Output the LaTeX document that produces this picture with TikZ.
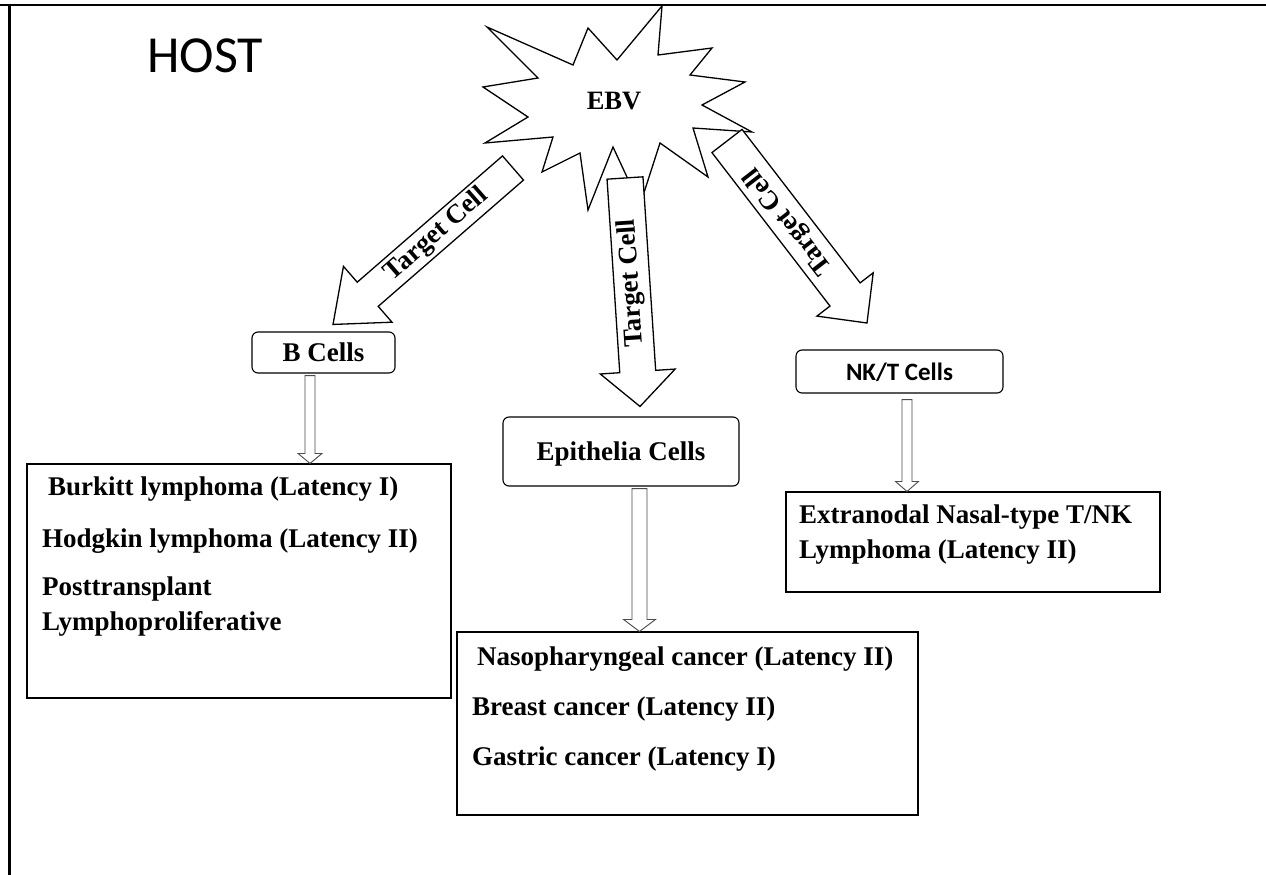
\documentclass[tikz,border=0pt]{standalone}
\usepackage{fontspec}
\setmainfont{Liberation Serif}
\newfontfamily\calibri{Carlito}
\usetikzlibrary{calc}

% #1 style, #2 start, #3 tip, #4 half shaft, #5 half head, #6 head length
\newcommand{\blockarr}[6][]{%
  \path ($(#3)!#6!(#2)$) coordinate (hb);
  \draw[#1] ($(#2)!#4!90:(#3)$) -- ($(hb)!#4!90:(#3)$) -- ($(hb)!#5!90:(#3)$) -- (#3)
    -- ($(hb)!#5!-90:(#3)$) -- ($(hb)!#4!-90:(#3)$) -- ($(#2)!#4!-90:(#3)$) -- cycle;}

\begin{document}
\begin{tikzpicture}[x=1pt,y=-1pt,
  lbl/.style={font=\fontsize{27}{30}\selectfont\bfseries, inner sep=0pt, anchor=base west},
  cellbox/.style={draw, rounded corners=6pt, line width=1.1pt, inner sep=0pt, text height=18pt, text depth=0pt, font=\fontsize{27}{30}\selectfont\bfseries},
  listbox/.style={draw, line width=1.1pt, inner sep=0pt},
  bigarrow/.style={draw, fill=white, line width=1.3pt, line join=miter},
  thinarrow/.style={draw=black!70, fill=white, line width=0.9pt, line join=miter},
  tc/.style={font=\fontsize{26.8}{30}\selectfont\bfseries, inner sep=0pt}
]
\fill[white] (0,0) rectangle (1266,875);
\useasboundingbox (0,0) rectangle (1266,875);
\draw[line width=2.8pt] (0,5) -- (1266,5);
\draw[line width=2.8pt] (9.5,3.6) -- (9.5,875);

\node[inner sep=0pt, anchor=base west, font=\calibri\fontsize{52}{60}\selectfont] (host) at (147,72) {HOST};

% star
\draw[line width=1.3pt, fill=white, line join=miter]
  (662,6) -- (658,55) -- (712,48) -- (690,75) -- (745,82) -- (702,105) -- (752,132)
  -- (693,128) -- (708,177) -- (660,143) -- (640,205) -- (613,147) -- (588,210)
  -- (580,153) -- (542,172) -- (553,137) -- (485,143) -- (528,117) -- (483,87)
  -- (538,78) -- (487,27) -- (573,65) -- (588,28) -- (617,60) -- cycle;
\node[font=\fontsize{26.5}{30}\selectfont\bfseries, inner sep=0pt, anchor=base] (ebv) at (614,109) {EBV};

% boxes
\node[cellbox, minimum width=143pt, minimum height=41pt] (bcells) at (323.5,352.5) {B Cells};
\node[cellbox, minimum width=236pt, minimum height=69pt] (epi) at (621,451.5) {Epithelia Cells};
\node[cellbox, font=\calibri\fontsize{25}{30}\selectfont\bfseries, minimum width=207pt, minimum height=43pt] (nkt) at (899.5,371.5) {NK/T Cells};

\node[listbox, minimum width=424pt, minimum height=234pt] (bl) at (239,581) {};
\node[listbox, minimum width=461pt, minimum height=183pt] (nl) at (687.5,723.5) {};
\node[listbox, minimum width=374pt, minimum height=100pt] (el) at (973,542) {};

\node[lbl] (b1) at (48,495) {Burkitt lymphoma (Latency I)};
\node[lbl] (b2) at (42,547) {Hodgkin lymphoma (Latency II)};
\node[lbl] (b3) at (42,595) {Posttransplant};
\node[lbl] (b4) at (42,630) {Lymphoproliferative};
\node[lbl] (n1) at (477,665) {Nasopharyngeal cancer (Latency II)};
\node[lbl] (n2) at (472,715) {Breast cancer (Latency II)};
\node[lbl] (n3) at (472,765) {Gastric cancer (Latency I)};
\node[lbl] (e1) at (799,523) {Extranodal Nasal-type T/NK};
\node[lbl] (e2) at (799,558) {Lymphoma (Latency II)};

% big arrows from EBV
\coordinate (la1) at (513,168);
\coordinate (la2) at ([xshift=9.5pt,yshift=7pt]bcells.north);
\blockarr[bigarrow]{la1}{la2}{16pt}{37pt}{46pt}
\node[tc, rotate=41.1] (lt) at ($(la1)!0.425!(la2)$) {Target Cell};

\coordinate (ma1) at (625,178);
\coordinate (ma2) at ([xshift=19pt,yshift=10pt]epi.north);
\blockarr[bigarrow]{ma1}{ma2}{18pt}{37.5pt}{35pt}
\node[tc, rotate=93.7] (mt) at ($(ma1)!0.46!(ma2)$) {Target Cell};

\coordinate (ra1) at (727,141);
\coordinate (ra2) at (867,323);
\blockarr[bigarrow]{ra1}{ra2}{19pt}{35.5pt}{36pt}
\node[tc, rotate=127.6] (rt) at ($(ra1)!0.44!(ra2)$) {Target Cell};

% thin arrows
\coordinate (ba1) at ([xshift=-13.5pt,yshift=-2pt]bcells.south);
\coordinate (ba2) at (ba1 |- bl.north);
\blockarr[thinarrow]{ba1}{ba2}{5pt}{12pt}{10pt}

\coordinate (ea1) at ([xshift=18.5pt,yshift=-2pt]epi.south);
\coordinate (ea2) at (ea1 |- nl.north);
\blockarr[thinarrow]{ea1}{ea2}{7.5pt}{16pt}{12pt}

\coordinate (na1) at ([xshift=7.5pt,yshift=-6pt]nkt.south);
\coordinate (na2) at (na1 |- el.north);
\blockarr[thinarrow]{na1}{na2}{5pt}{11.5pt}{10pt}
\end{tikzpicture}
\end{document}
